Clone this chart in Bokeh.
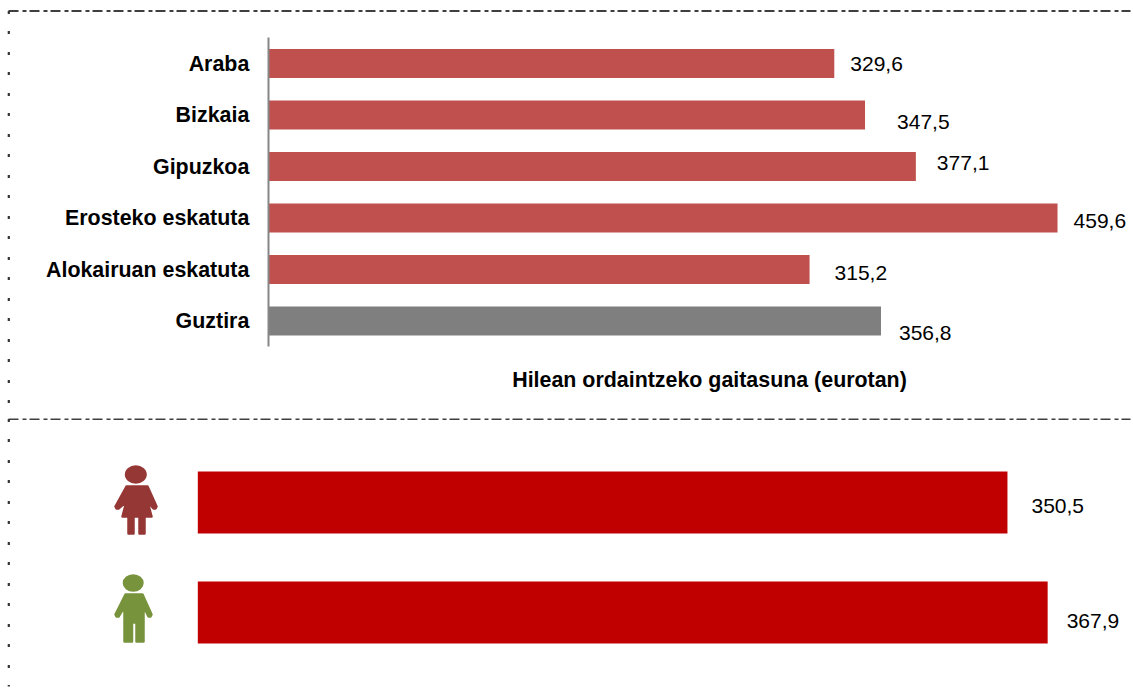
from bokeh.plotting import figure
from bokeh.layouts import column
from bokeh.models import Range1d, LinearAxis, FixedTicker, Label, ColumnDataSource
from bokeh.core.properties import value
from bokeh.embed import file_html
from bokeh.resources import INLINE

# ---- data
categories = ["Araba", "Bizkaia", "Gipuzkoa", "Erosteko eskatuta", "Alokairuan eskatuta", "Guztira"]
payment = [329.6, 347.5, 377.1, 459.6, 315.2, 356.8]
gender_values = [350.5, 367.9]
x_title = "Hilean ordaintzeko gaitasuna (eurotan)"

# ---- style / layout
RED, GREY, DARK = "#C0504D", "#7F7F7F", "#C00000"
WOMAN, MAN = "#953735", "#77933C"
FONT = "Liberation Sans"
W = 1133
MID_PX, END_PX = 418, 695
top_off_x = [16, 32, 21, 16, 25, 18]
top_off_y = [0, 7, -4, 3, 3, 12]
bot_off_x = [24, 19]
bot_off_y = [3, 8]
DASH = "10 4 4 3"
VAL_SIZE, BOLD_SIZE = "21px", "21.4px"


def frame(py0, py1, x0_px, sx, y0_px, step, line_y, v_end):
    x_range = Range1d(-x0_px / sx, (W - x0_px) / sx)
    y_range = Range1d((py1 - y0_px) / step, (py0 - y0_px) / step)
    p = figure(width=W, height=py1 - py0, x_range=x_range, y_range=y_range,
               output_backend="svg", toolbar_location=None,
               x_axis_location=None, y_axis_location=None,
               min_border=0, min_border_left=0, min_border_right=0,
               min_border_top=0, min_border_bottom=0)
    p.grid.visible = False
    p.outline_line_color = None
    to_x = lambda px: (px - x0_px) / sx
    to_y = lambda py: (py - y0_px) / step
    p.line(x=[to_x(8), to_x(1130)], y=[to_y(line_y)] * 2, line_color="#000000",
           line_width=1.3, line_dash=DASH)
    p.line(x=[to_x(8.3)] * 2, y=[to_y(line_y), to_y(v_end)], line_color="#333333",
           line_width=2.2, line_dash="3 17 3 18")
    return p, to_x, to_y


# ---- top chart
SX1, X01, Y01, STEP1 = 1.7172, 267.8, 63, 51.5
p1, tx1, ty1 = frame(0, MID_PX, X01, SX1, Y01, STEP1, 10.5, MID_PX)
idx = list(range(len(categories)))
src1 = ColumnDataSource(dict(y=idx, v=payment, c=[RED] * 5 + [GREY],
                             t=[f"{v:.1f}".replace(".", ",") for v in payment],
                             ox=top_off_x, oy=top_off_y))
p1.hbar(y="y", left=0, right="v", height=29 / STEP1, fill_color="c", line_color=None, source=src1)
p1.text(x="v", y="y", text="t", x_offset="ox", y_offset="oy", text_font=value(FONT),
        text_font_size=VAL_SIZE, text_color="#000000", text_baseline="middle", source=src1)
ax = LinearAxis(fixed_location=0, bounds=(-0.5, 5.5), ticker=FixedTicker(ticks=idx),
                major_label_overrides={i: c for i, c in enumerate(categories)})
ax.axis_line_color = "#868686"
ax.axis_line_width = 2
ax.major_tick_line_color = None
ax.minor_tick_line_color = None
ax.major_tick_out = 0
ax.major_tick_in = 0
ax.major_label_standoff = 19
ax.major_label_text_font = FONT
ax.major_label_text_font_style = "bold"
ax.major_label_text_font_size = BOLD_SIZE
ax.major_label_text_color = "#000000"
p1.add_layout(ax, "left")
p1.add_layout(Label(x=tx1(709), y=ty1(379), text=x_title, text_font=FONT, text_font_style="bold",
                    text_font_size=BOLD_SIZE, text_color="#000000", text_align="center",
                    text_baseline="middle"))

# ---- bottom chart
SX2, X02, Y02, STEP2 = 2.31, 197.3, 502, 110
p2, tx2, ty2 = frame(MID_PX, END_PX, X02, SX2, Y02, STEP2, 418.5, 686)
src2 = ColumnDataSource(dict(y=[0, 1], v=gender_values,
                             t=[f"{v:.1f}".replace(".", ",") for v in gender_values],
                             ox=bot_off_x, oy=bot_off_y))
p2.hbar(y="y", left=0, right="v", height=62 / STEP2, fill_color=DARK, line_color=None, source=src2)
p2.text(x="v", y="y", text="t", x_offset="ox", y_offset="oy", text_font=value(FONT),
        text_font_size=VAL_SIZE, text_color="#000000", text_baseline="middle", source=src2)


# ---- pictograms (traced outlines, page pixels)
def pict(head, shapes, color):
    cx, cy, w, h = head
    p2.ellipse(x=tx2(cx), y=ty2(cy), width=w / SX2, height=h / STEP2, fill_color=color, line_color=None)
    for pts in shapes:
        p2.patch(x=[tx2(a) for a, _ in pts], y=[ty2(b) for _, b in pts], fill_color=color,
                 line_color=color, line_width=2.5, line_join="round")


woman_body = [(126, 486), (147, 486), (156, 506), (155, 508), (153, 508), (147, 501), (151, 516),
              (122, 516), (126, 501), (118, 508), (116, 508), (115, 506)]
woman_leg1 = [(128, 516), (133, 516), (133, 533), (128, 533)]
woman_leg2 = [(139, 516), (144, 516), (144, 533), (139, 533)]
man_body = [(125, 594), (142, 594), (151, 614), (150, 616), (148, 616), (143, 606), (143, 641),
            (136, 641), (136, 622), (131.5, 622), (131.5, 641), (124, 641), (124, 606), (118, 616),
            (116, 616), (115, 614)]
pict((135.3, 474, 22, 18.5), [woman_body, woman_leg1, woman_leg2], WOMAN)
pict((132.7, 582.5, 21, 17.5), [man_body], MAN)

page = column(p1, p2, spacing=0)
open("out.html", "w").write(file_html(page, INLINE))
